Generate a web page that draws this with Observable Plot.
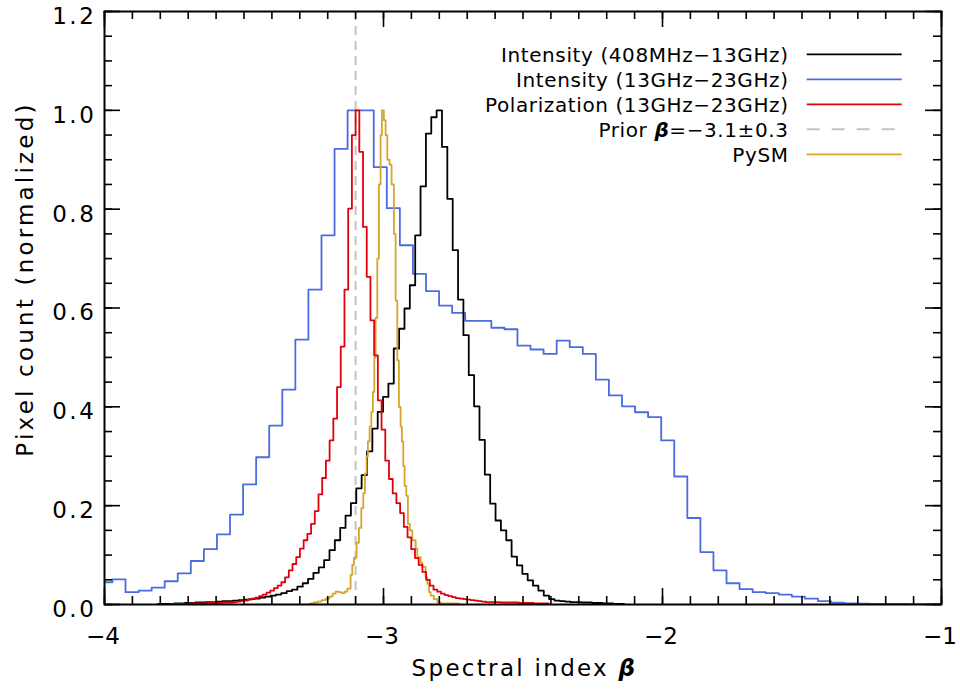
<!DOCTYPE html>
<html><head><meta charset="utf-8">
<script src="https://cdn.jsdelivr.net/npm/d3@7"></script>
<script src="https://cdn.jsdelivr.net/npm/@observablehq/plot@0.6"></script>
<style>
html,body{margin:0;padding:0;background:#fff;overflow:hidden}
svg text{font-family:"DejaVu Sans",sans-serif;}
</style></head><body><div id="chart"></div>
<script>
// ---- data ----
const priorBeta = -3.1;

// Intensity (13GHz-23GHz): uniform bins
const blueStart = -4.0184, blueWidth = 0.04683;
const blueValues = [0.045,0.051,0.025,0.028,0.034,0.047,0.063,0.088,0.112,0.142,0.182,0.243,0.298,0.362,0.435,0.536,0.637,0.747,0.922,1.000,1.000,0.885,0.802,0.727,0.669,0.634,0.605,0.590,0.574,0.574,0.560,0.557,0.524,0.516,0.507,0.534,0.521,0.507,0.455,0.423,0.401,0.389,0.379,0.332,0.259,0.175,0.106,0.069,0.043,0.031,0.025,0.023,0.020,0.016,0.012,0.007,0.0035,0.002,0.0015,0.001,0.001,0.001,0.0008,0.0005,0.0005];

// Intensity (408MHz-13GHz): uniform bins
const blackStart = -3.8080, blackWidth = 0.0192;
const blackValues = [0.001,0.001,0.001,0.002,0.002,0.003,0.003,0.004,0.004,0.005,0.005,0.006,0.007,0.007,0.008,0.009,0.010,0.011,0.012,0.014,0.016,0.018,0.020,0.023,0.027,0.030,0.036,0.043,0.052,0.064,0.075,0.090,0.110,0.130,0.155,0.180,0.205,0.235,0.262,0.310,0.356,0.390,0.420,0.447,0.518,0.558,0.599,0.646,0.747,0.846,0.953,0.986,1.000,0.926,0.821,0.717,0.617,0.545,0.464,0.401,0.333,0.263,0.204,0.170,0.150,0.130,0.097,0.079,0.062,0.049,0.038,0.028,0.018,0.011,0.008,0.007,0.006,0.005,0.005,0.004,0.004,0.003,0.003,0.002,0.002,0.001,0.001];

// Polarization (13GHz-23GHz): uniform bins
const redStart = -3.765, redWidth = 0.0133;
const redValues = [0.001,0.001,0.001,0.001,0.001,0.002,0.002,0.002,0.002,0.002,0.003,0.003,0.003,0.003,0.004,0.004,0.004,0.005,0.006,0.007,0.008,0.010,0.012,0.014,0.017,0.020,0.024,0.028,0.033,0.038,0.045,0.055,0.069,0.082,0.096,0.113,0.130,0.143,0.163,0.189,0.223,0.256,0.291,0.332,0.376,0.440,0.522,0.637,0.801,0.950,1.000,0.916,0.764,0.663,0.575,0.504,0.413,0.354,0.291,0.254,0.225,0.205,0.185,0.157,0.136,0.112,0.094,0.080,0.066,0.050,0.038,0.030,0.026,0.022,0.019,0.017,0.015,0.013,0.012,0.011,0.010,0.009,0.008,0.007,0.006,0.005,0.005,0.005,0.005,0.004,0.004,0.004,0.004,0.004,0.003,0.003,0.003,0.003,0.002,0.002,0.002,0.002];

// PySM: step edges and heights
const goldEdges = [-3.2639,-3.2506,-3.2363,-3.2220,-3.2076,-3.1933,-3.1825,-3.1718,-3.1610,-3.1502,-3.1395,-3.1298,-3.1180,-3.1119,-3.1061,-3.0965,-3.0882,-3.0796,-3.0724,-3.0667,-3.0606,-3.0559,-3.0498,-3.0437,-3.0380,-3.0330,-3.0283,-3.0222,-3.0165,-3.0104,-3.0057,-2.9986,-2.9925,-2.9864,-2.9781,-2.9710,-2.9627,-2.9566,-2.9505,-2.9448,-2.9387,-2.9341,-2.9290,-2.9244,-2.9183,-2.9125,-2.9054,-2.8968,-2.8849,-2.8788,-2.8670,-2.8609,-2.8490,-2.8430,-2.8365,-2.8311,-2.8193,-2.8071,-2.7953,-2.7296];
const goldValues = [0.002,0.004,0.006,0.009,0.012,0.016,0.022,0.026,0.025,0.023,0.026,0.032,0.060,0.080,0.095,0.125,0.155,0.195,0.225,0.265,0.300,0.330,0.360,0.390,0.430,0.500,0.580,0.700,0.850,0.950,1.000,0.980,0.950,0.900,0.890,0.850,0.750,0.615,0.494,0.400,0.360,0.330,0.280,0.240,0.220,0.163,0.150,0.130,0.113,0.096,0.085,0.076,0.055,0.042,0.025,0.018,0.011,0.005,0.002];

const xMajor = [-4,-3,-2,-1];
const xTickLabels = ["−4","−3","−2","−1"];
const yMajor = [0,0.2,0.4,0.6,0.8,1.0,1.2];
const yTickLabels = ["0.0","0.2","0.4","0.6","0.8","1.0","1.2"];
const xMinor = d3.range(-40,-9).map(d=>d/10);
const yMinor = d3.range(0,25).map(d=>d/20);

const seriesNames = ["Intensity (408MHz−13GHz)","Intensity (13GHz−23GHz)","Polarization (13GHz−23GHz)","Prior","PySM"];
const seriesColors = ["#000000","#4a6ce0","#e3000b","#c3c3c3","#d6a52e"];

// ---- helpers ----
function uniformSteps(start,width,values){
  const pts = values.map((v,i)=>({x:start+i*width,y:v}));
  pts.push({x:start+values.length*width,y:values[values.length-1]});
  return pts;
}
function edgeSteps(edges,values){
  const pts = values.map((v,i)=>({x:edges[i],y:v}));
  pts.push({x:edges[edges.length-1],y:values[values.length-1]});
  return pts;
}
const blue = uniformSteps(blueStart,blueWidth,blueValues);
const black = uniformSteps(blackStart,blackWidth,blackValues);
const red = uniformSteps(redStart,redWidth,redValues);
const gold = edgeSteps(goldEdges,goldValues);

const W=960,H=689,mL=104,mR=19,mT=11,mB=85;
const fw=W-mL-mR, fh=H-mT-mB;
const lw=1.8;

const chart = Plot.plot({
  width:W,height:H,marginLeft:mL,marginRight:mR,marginTop:mT,marginBottom:mB,
  x:{domain:[-4,-1],axis:null},
  y:{domain:[0,1.2],axis:null},
  style:{fontFamily:"DejaVu Sans",fontSize:"23px",color:"#000",background:"#fff"},
  marks:[
    Plot.ruleX([priorBeta],{stroke:seriesColors[3],strokeWidth:2,strokeDasharray:"9,6"}),
    Plot.line(blue,{x:"x",y:"y",curve:"step-after",stroke:seriesColors[1],strokeWidth:lw,clip:true}),
    Plot.line(black,{x:"x",y:"y",curve:"step-after",stroke:seriesColors[0],strokeWidth:lw,clip:true}),
    Plot.line(gold,{x:"x",y:"y",curve:"step-after",stroke:seriesColors[4],strokeWidth:lw,clip:true}),
    Plot.line(red,{x:"x",y:"y",curve:"step-after",stroke:seriesColors[2],strokeWidth:lw,clip:true}),
    // inward ticks on all four sides
    Plot.ruleX(xMinor,{insetTop:fh-8,stroke:"#000",strokeWidth:1.6}),
    Plot.ruleX(xMinor,{insetBottom:fh-8,stroke:"#000",strokeWidth:1.6}),
    Plot.ruleX(xMajor,{insetTop:fh-16,stroke:"#000",strokeWidth:1.6}),
    Plot.ruleX(xMajor,{insetBottom:fh-16,stroke:"#000",strokeWidth:1.6}),
    Plot.ruleY(yMinor,{insetRight:fw-8,stroke:"#000",strokeWidth:1.6}),
    Plot.ruleY(yMinor,{insetLeft:fw-8,stroke:"#000",strokeWidth:1.6}),
    Plot.ruleY(yMajor,{insetRight:fw-16,stroke:"#000",strokeWidth:1.6}),
    Plot.ruleY(yMajor,{insetLeft:fw-16,stroke:"#000",strokeWidth:1.6}),
    // tick labels
    Plot.text(xMajor,{x:d=>d,text:d=>xTickLabels[xMajor.indexOf(d)],frameAnchor:"bottom",dy:32,dx:-1.5,lineAnchor:"middle",textAnchor:"middle",fontSize:23,fill:"#000"}),
    Plot.text(yMajor,{y:d=>d,text:d=>yTickLabels[yMajor.indexOf(d)],frameAnchor:"left",dx:-8.2,dy:5,lineAnchor:"middle",textAnchor:"end",fontSize:23,fill:"#000",className:"ylab"}),
    Plot.frame({stroke:"#000",strokeWidth:2})
  ]
});
const svg = d3.select(chart);
svg.selectAll(".ylab text").style("letter-spacing","2.5px");

// axis titles
const xl = svg.append("text").attr("x",524.5).attr("y",676).attr("text-anchor","middle")
  .style("font-size","23px").style("letter-spacing","2.3px").attr("fill","#000");
xl.append("tspan").text("Spectral index ");
xl.append("tspan").text("β").style("font-weight","bold").style("font-style","italic");
svg.append("text").attr("transform","translate(33.3,279) rotate(-90)").attr("text-anchor","middle")
  .style("font-size","23px").style("letter-spacing","3.2px").attr("fill","#000").text("Pixel count (normalized)");

// legend
const rowY = [54.3,79.3,104.3,129.3,154.3];
const lg = svg.append("g");
seriesNames.forEach((name,i)=>{
  const t = lg.append("text").attr("x",788.6).attr("y",rowY[i]+7.3).attr("text-anchor","end")
    .style("font-size","20px").style("letter-spacing","0.6px").attr("fill","#000");
  if(name==="Prior"){
    t.append("tspan").text("Prior ");
    t.append("tspan").text("β").style("font-weight","bold").style("font-style","italic");
    t.append("tspan").text("=−3.1±0.3");
  } else t.text(name);
  lg.append("line").attr("x1",806.7).attr("x2",901.7).attr("y1",rowY[i]).attr("y2",rowY[i])
    .attr("stroke",seriesColors[i]).attr("stroke-width",i===3?2:lw)
    .attr("stroke-dasharray",i===3?"13,12":null);
});

document.getElementById("chart").appendChild(chart);
</script></body></html>
